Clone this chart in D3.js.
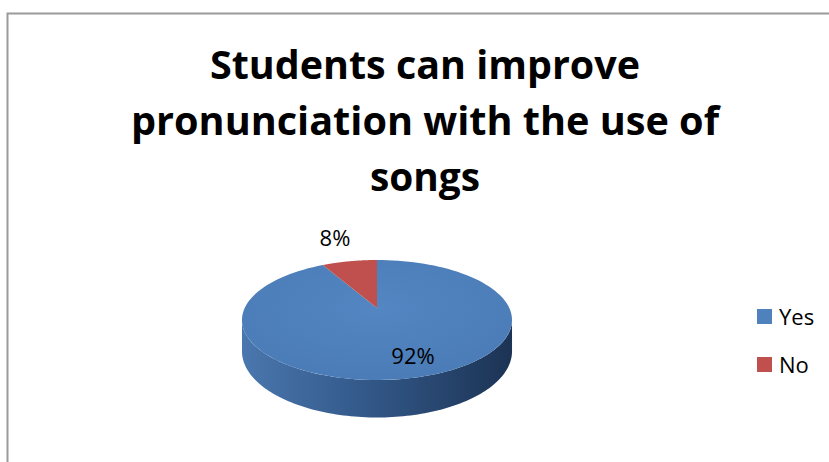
<!DOCTYPE html>
<html><head><meta charset="utf-8">
<script src="https://cdn.jsdelivr.net/npm/d3@7"></script>
<style>body{margin:0;background:#fff}svg{display:block}</style>
</head><body>
<svg id="c" width="829" height="462"></svg>
<script>
const categories = ["Yes", "No"];
const values = [92, 8];
const labels = ["92%", "8%"];
const titleLines = ["Students can improve", "pronunciation with the use of", "songs"];
const colors = ["#4F81BD", "#C0504D"];

const svg = d3.select("#c");
const W = 829, H = 462;

// chart border (top & left visible)
svg.append("rect").attr("x", 7.5).attr("y", 13.5).attr("width", W + 10).attr("height", H + 10)
  .attr("fill", "none").attr("stroke", "#9a9a9a").attr("stroke-width", 2);

// title
const titleW = [430, 588, 110];
const tg = svg.append("g").attr("font-family", "'Open Sans', sans-serif").attr("font-weight", "bold")
  .attr("font-size", 38.5).attr("fill", "#000").attr("text-anchor", "middle");
titleLines.forEach((t, i) => {
  tg.append("text").attr("x", 425).attr("y", 79 + i * 56).attr("textLength", titleW[i])
    .attr("lengthAdjust", "spacingAndGlyphs").text(t);
});

// defs
const defs = svg.append("defs");
const sg = defs.append("linearGradient").attr("id", "side").attr("x1", 0).attr("x2", 1).attr("y1", 0).attr("y2", 0);
sg.append("stop").attr("offset", "0%").attr("stop-color", "#4a77ae");
sg.append("stop").attr("offset", "45%").attr("stop-color", "#33598a");
sg.append("stop").attr("offset", "100%").attr("stop-color", "#1c3354");
const sgr = defs.append("linearGradient").attr("id", "sideRed").attr("x1", 0).attr("x2", 1);
sgr.append("stop").attr("offset", "0%").attr("stop-color", "#a8403d");
sgr.append("stop").attr("offset", "100%").attr("stop-color", "#7a2b29");
const tgd = defs.append("radialGradient").attr("id", "topBlue").attr("cx", "50%").attr("cy", "40%").attr("r", "65%");
tgd.append("stop").attr("offset", "0%").attr("stop-color", "#5386c2");
tgd.append("stop").attr("offset", "100%").attr("stop-color", "#4a7bb6");

// 3D pie with simple perspective projection
const ax = 377, ay = 308;       // projected pie centre
const e = 0.2;                  // perspective strength
const Kx = 132.3, Ky = 57.6;    // horizontal / vertical radii factors
const D = 30;                   // thickness
function proj(a, dz = 0) {
  const u = Math.sin(a), v = -Math.cos(a);
  const s = 1 / (1 - e * v);
  return [ax + Kx * u * s, ay + Ky * v * s + D * s * dz];
}
const pie = d3.pie().sort(null).value(d => d)(values);
const line = d3.line();
const samples = (a0, a1, dz) => d3.range(0, 121).map(k => proj(a0 + (a1 - a0) * k / 120, dz));

// side walls: visible between the two silhouette angles
const aL = Math.acos(-e), aR = 2 * Math.PI - Math.acos(-e);
const sideG = svg.append("g");
pie.forEach((p, i) => {
  const a0 = Math.max(p.startAngle, aL), a1 = Math.min(p.endAngle, aR);
  if (a1 <= a0) return;
  const pts = samples(a0, a1, 0).concat(samples(a0, a1, 1).reverse());
  sideG.append("path").attr("d", line(pts) + "Z").attr("fill", i === 0 ? "url(#side)" : "url(#sideRed)");
});

// top faces
const topG = svg.append("g");
topG.selectAll("path").data(pie).join("path")
  .attr("d", p => line([[ax, ay]].concat(samples(p.startAngle, p.endAngle, 0))) + "Z")
  .attr("fill", (d, i) => i === 0 ? "url(#topBlue)" : colors[i]);

// data labels
const lg = svg.append("g").attr("font-family", "'Open Sans', sans-serif").attr("font-size", 22)
  .attr("fill", "#000").attr("text-anchor", "middle");
const labelPos = [[413, 364], [335, 246]];
labels.forEach((t, i) => lg.append("text").attr("x", labelPos[i][0]).attr("y", labelPos[i][1]).text(t));

// legend
const leg = svg.append("g").attr("font-family", "'Open Sans', sans-serif").attr("font-size", 22);
categories.forEach((c, i) => {
  const y = 309 + i * 48;
  leg.append("rect").attr("x", 757).attr("y", y).attr("width", 15).attr("height", 15).attr("fill", colors[i]);
  leg.append("text").attr("x", 779).attr("y", y + 16).text(c);
});
</script>
</body></html>
